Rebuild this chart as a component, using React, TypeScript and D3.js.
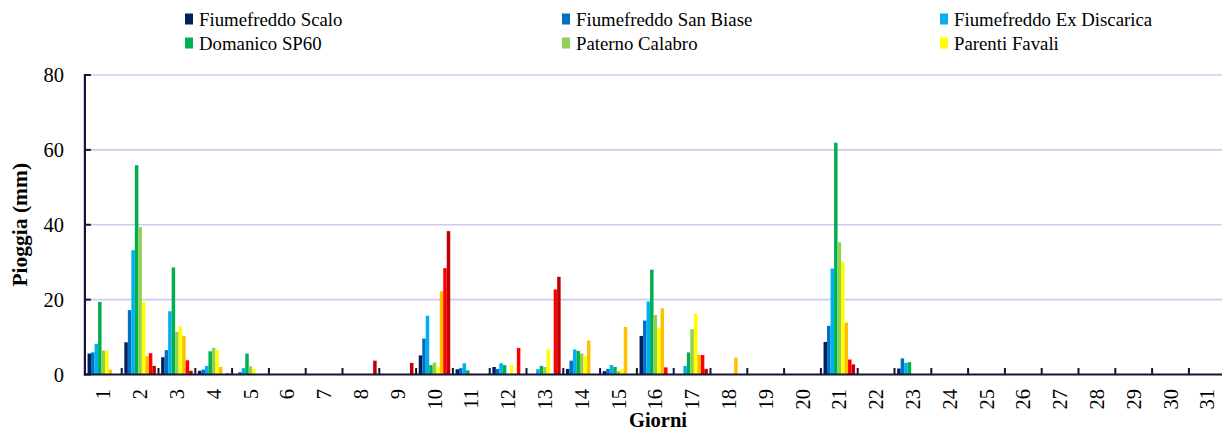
import React from "react";
import * as d3 from "d3";

const days: number[] = d3.range(1, 32);

const seriesNames: string[] = [
  "Fiumefreddo Scalo",
  "Fiumefreddo San Biase",
  "Fiumefreddo Ex Discarica",
  "Domanico SP60",
  "Paterno Calabro",
  "Parenti Favali",
  "Stazione 7",
  "Stazione 8",
  "Stazione 9",
];

const seriesColors: string[] = [
  "#002060", "#0070C0", "#00B0F0", "#00B050", "#92D050",
  "#FFFF00", "#FFC000", "#FF0000", "#C00000",
];

// legend shows only the first six series (as in the reference)
const legendCount = 6;

const fiumefreddoScalo: number[] = [5.6, 8.6, 4.6, 1.0, 0, 0, 0, 0, 0, 5.1, 1.4, 2.0, 0, 1.5, 0.9, 10.3, 0, 0, 0, 0, 8.7, 0, 1.6, 0, 0, 0, 0, 0, 0, 0, 0];
const fiumefreddoSanBiase: number[] = [5.9, 17.2, 6.5, 1.3, 0.6, 0, 0, 0, 0, 9.6, 1.7, 1.5, 0, 3.7, 1.5, 14.4, 0, 0, 0, 0, 13.0, 0, 4.3, 0, 0, 0, 0, 0, 0, 0, 0];
const fiumefreddoExDiscarica: number[] = [8.2, 33.2, 16.9, 2.3, 1.7, 0, 0, 0, 0, 15.7, 3.0, 3.0, 1.4, 6.7, 2.5, 19.5, 2.3, 0, 0, 0, 28.3, 0, 3.1, 0, 0, 0, 0, 0, 0, 0, 0];
const domanicoSP60: number[] = [19.4, 55.9, 28.6, 6.2, 5.6, 0, 0, 0, 0, 2.5, 1.1, 2.5, 2.3, 6.3, 2.0, 28.0, 5.9, 0, 0, 0, 61.9, 0, 3.3, 0, 0, 0, 0, 0, 0, 0, 0];
const paternoCalabro: number[] = [6.4, 39.4, 11.4, 7.1, 2.2, 0, 0, 0, 0, 3.2, 0.2, 0, 2.0, 5.6, 0.9, 15.9, 12.1, 0, 0, 0, 35.3, 0, 0, 0, 0, 0, 0, 0, 0, 0, 0];
const parentiFavali: number[] = [6.4, 19.4, 12.9, 6.5, 1.5, 0, 0, 0, 0, 2.1, 0.2, 2.5, 6.7, 4.9, 1.5, 12.5, 16.3, 0.3, 0, 0, 30.1, 0, 0, 0, 0, 0, 0, 0, 0, 0, 0];
const stazione7: number[] = [1.3, 4.9, 10.3, 2.0, 0, 0, 0, 0, 0, 22.2, 0, 0.2, 0, 9.1, 12.7, 17.7, 5.2, 4.5, 0, 0, 13.9, 0, 0, 0, 0, 0, 0, 0, 0, 0, 0];
const stazione8: number[] = [0, 5.7, 3.8, 0, 0, 0, 0, 0, 0, 28.4, 0, 7.1, 22.7, 0, 0, 1.9, 5.2, 0, 0, 0, 4.0, 0, 0, 0, 0, 0, 0, 0, 0, 0, 0];
const stazione9: number[] = [0, 2.3, 1.0, 0.3, 0, 0, 0, 3.7, 3.1, 38.3, 0, 0, 26.1, 0, 0, 0, 1.5, 0, 0, 0, 2.7, 0, 0, 0, 0, 0, 0, 0, 0, 0, 0];

const seriesValues: number[][] = [
  fiumefreddoScalo, fiumefreddoSanBiase, fiumefreddoExDiscarica, domanicoSP60,
  paternoCalabro, parentiFavali, stazione7, stazione8, stazione9,
];

const yTicks: number[] = [0, 20, 40, 60, 80];

const W = 1222;
const H = 432;
const FONT = "'Liberation Serif', 'Times New Roman', serif";
const AXIS = "#14143a";
const GRID = "#cfcbf0";

export default function App() {
  const x0 = 84.9;
  const catW = 36.8;
  const x = d3.scaleBand<number>().domain(days).range([x0, x0 + catW * days.length]).padding(0);
  const y = d3.scaleLinear().domain([0, 80]).range([374.5, 75]);
  const barW = 3.5;
  const clusterW = barW * seriesValues.length;
  const xi = d3.scaleBand<number>().domain(d3.range(seriesValues.length)).range([0, clusterW]).padding(0);
  const off = (x.bandwidth() - clusterW) / 2;

  const legendCols = [185, 562, 940];
  const legendRows = [19, 43];

  return (
    <svg width={W} height={H} style={{ position: "absolute", left: 0, top: 0, background: "#fff" }} fontFamily={FONT}>
      {/* legend */}
      {seriesNames.slice(0, legendCount).map((name, i) => {
        const cx = legendCols[i % 3];
        const cy = legendRows[Math.floor(i / 3)];
        return (
          <g key={name}>
            <rect x={cx} y={cy - 5.5} width={8} height={11} fill={seriesColors[i]} />
            <text x={cx + 14} y={cy} dominantBaseline="central" fontSize={18.8} fill="#000">{name}</text>
          </g>
        );
      })}

      {/* gridlines */}
      {yTicks.filter((t) => t > 0).map((t) => (
        <line key={t} x1={x0} x2={W} y1={y(t)} y2={y(t)} stroke={GRID} strokeWidth={1.6} />
      ))}

      {/* bars */}
      {days.map((d, di) => (
        <g key={d}>
          {seriesValues.map((vals, si) =>
            vals[di] > 0 ? (
              <rect
                key={si}
                x={(x(d) as number) + off + (xi(si) as number)}
                y={y(vals[di])}
                width={xi.bandwidth()}
                height={y(0) - y(vals[di])}
                fill={seriesColors[si]}
              />
            ) : null
          )}
        </g>
      ))}

      {/* x axis ticks (inside) at category boundaries */}
      {days.map((d) => (
        <line key={d} x1={(x(d) as number) + catW} x2={(x(d) as number) + catW} y1={y(0)} y2={y(0) - 6.5} stroke={AXIS} strokeWidth={2} />
      ))}
      {/* y axis ticks */}
      {yTicks.map((t) => (
        <line key={t} x1={x0} x2={x0 + 6} y1={y(t)} y2={y(t)} stroke={AXIS} strokeWidth={2} />
      ))}
      {/* axis lines */}
      <line x1={x0} x2={x0} y1={y(80) - 1} y2={y(0) + 1} stroke={AXIS} strokeWidth={2.2} />
      <line x1={x0 - 1} x2={W} y1={y(0)} y2={y(0)} stroke={AXIS} strokeWidth={2.2} />

      {/* y tick labels */}
      {yTicks.map((t) => (
        <text key={t} x={64} y={y(t)} textAnchor="end" dominantBaseline="central" fontSize={20.5} fill="#000">{t}</text>
      ))}

      {/* x tick labels */}
      {days.map((d) => {
        const cx = (x(d) as number) + x.bandwidth() / 2;
        return (
          <text key={d} transform={`translate(${cx},389) rotate(-90)`} textAnchor="end" dominantBaseline="central" fontSize={20.5} fill="#000">{d}</text>
        );
      })}

      {/* axis titles */}
      <text transform={`translate(20,${y(40)}) rotate(-90)`} textAnchor="middle" dominantBaseline="central" fontSize={21.5} fontWeight="bold" fill="#000">Pioggia (mm)</text>
      <text x={658} y={427} textAnchor="middle" fontSize={20.5} fontWeight="bold" fill="#000">Giorni</text>
    </svg>
  );
}
